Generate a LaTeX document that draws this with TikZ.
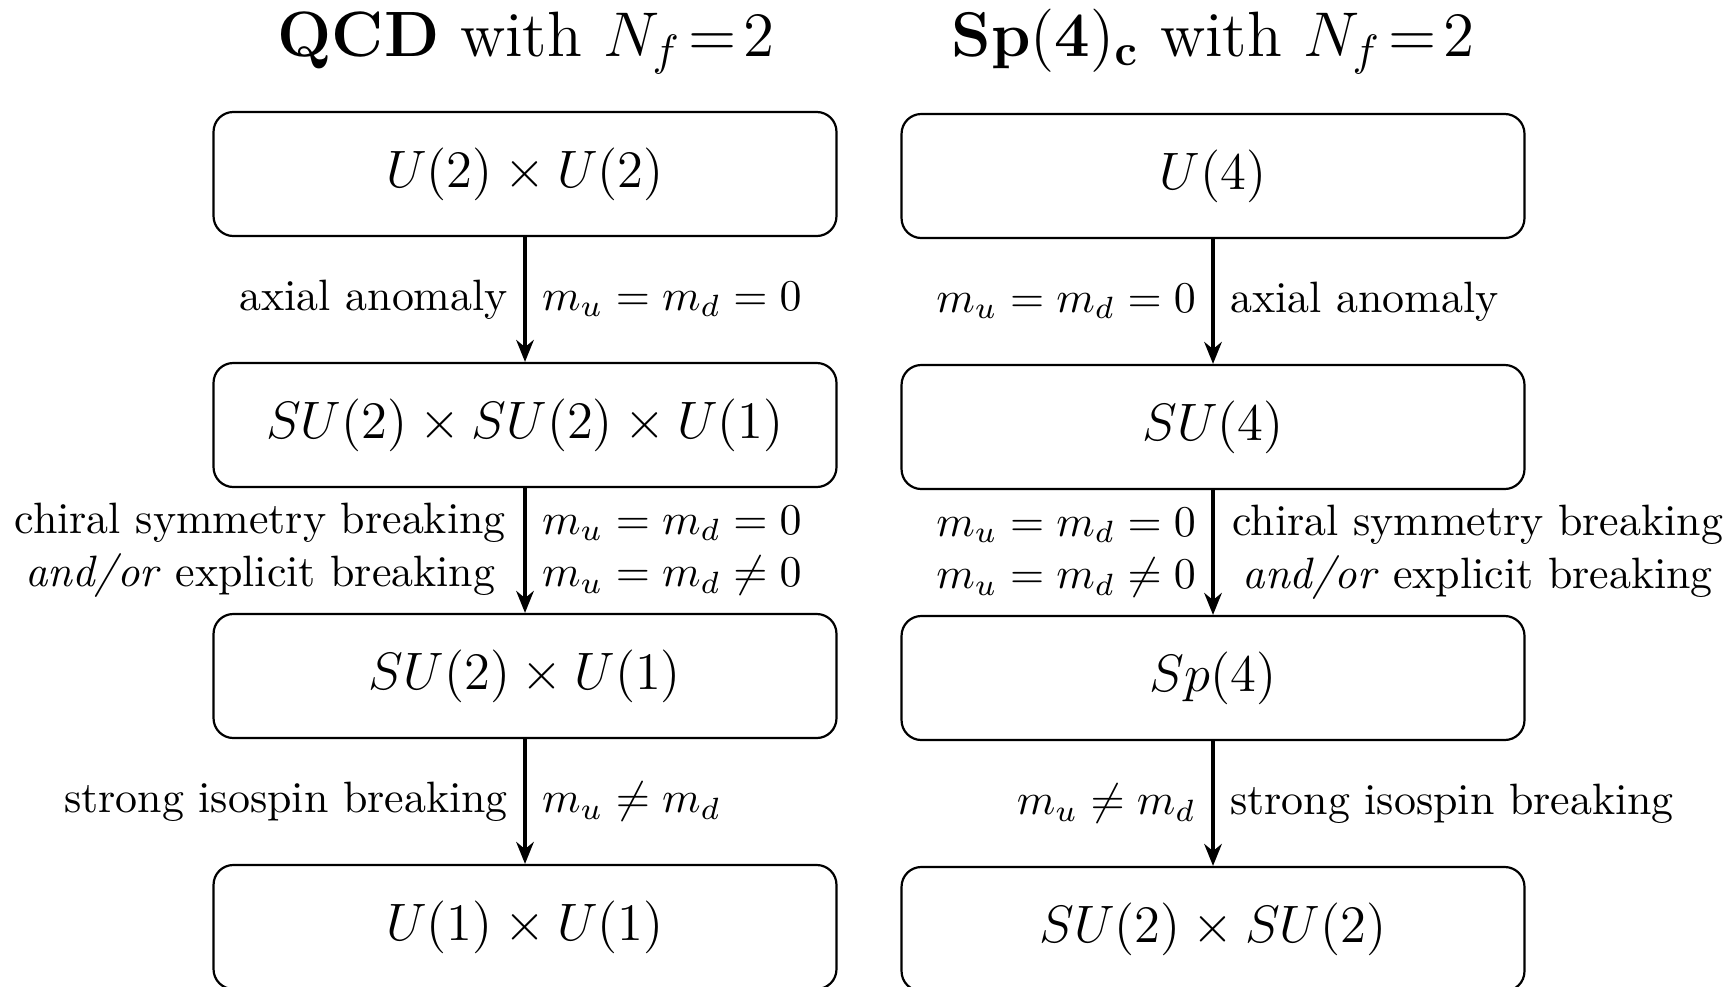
\documentclass[tikz,border=0pt]{standalone}
\usepackage{amsmath}
\usetikzlibrary{arrows.meta}
\begin{document}
\begin{tikzpicture}[x=0.2278pt,y=-0.2278pt,
  grp/.style={draw, rounded corners=4.5pt, line width=0.5pt, minimum width=141.9pt, minimum height=28.25pt, font=\large, inner sep=0pt},
  flow/.style={-{Stealth[length=5pt,width=4pt]}, line width=0.8pt},
  ttl/.style={font=\fontsize{14.6}{18}\selectfont, anchor=base, inner sep=0pt},
  lab/.style={inner sep=3.5pt, align=center}
]
\useasboundingbox (0,0) rectangle (1735,986);
\node[ttl] (t1) at (526,56) {\textbf{QCD} with $N_f\!=\!2$};
\node[ttl] (t2) at (1213,56) {$\mathbf{Sp(4)_c}$ with $N_f\!=\!2$};

\node[grp] (a1) at (525,174) {$U(2)\times U(2)$};
\node[grp] (a2) at (525,425) {$SU(2)\times SU(2)\times U(1)$};
\node[grp] (a3) at (525,676) {$SU(2)\times U(1)$};
\node[grp] (a4) at (525,927) {$U(1)\times U(1)$};

\node[grp] (b1) at (1213,176) {$U(4)$};
\node[grp] (b2) at (1213,427) {$SU(4)$};
\node[grp] (b3) at (1213,678) {$Sp(4)$};
\node[grp] (b4) at (1213,929) {$SU(2)\times SU(2)$};

\draw[flow] (a1) -- node[lab,left]{axial anomaly} node[lab,right]{$m_u=m_d=0$} (a2);
\draw[flow] (a2) -- node[lab,left,inner xsep=4pt]{chiral symmetry breaking\\ \textit{and/or} explicit breaking} node[lab,right,align=left]{$m_u=m_d=0$\\ $m_u=m_d\neq 0$} (a3);
\draw[flow] (a3) -- node[lab,left]{strong isospin breaking} node[lab,right]{$m_u\neq m_d$} (a4);

\draw[flow] (b1) -- node[lab,right]{axial anomaly} node[lab,left]{$m_u=m_d=0$} (b2);
\draw[flow] (b2) -- node[lab,right,inner xsep=4pt]{chiral symmetry breaking\\ \textit{and/or} explicit breaking} node[lab,left,align=left]{$m_u=m_d=0$\\ $m_u=m_d\neq 0$} (b3);
\draw[flow] (b3) -- node[lab,right]{strong isospin breaking} node[lab,left]{$m_u\neq m_d$} (b4);
\end{tikzpicture}
\end{document}
